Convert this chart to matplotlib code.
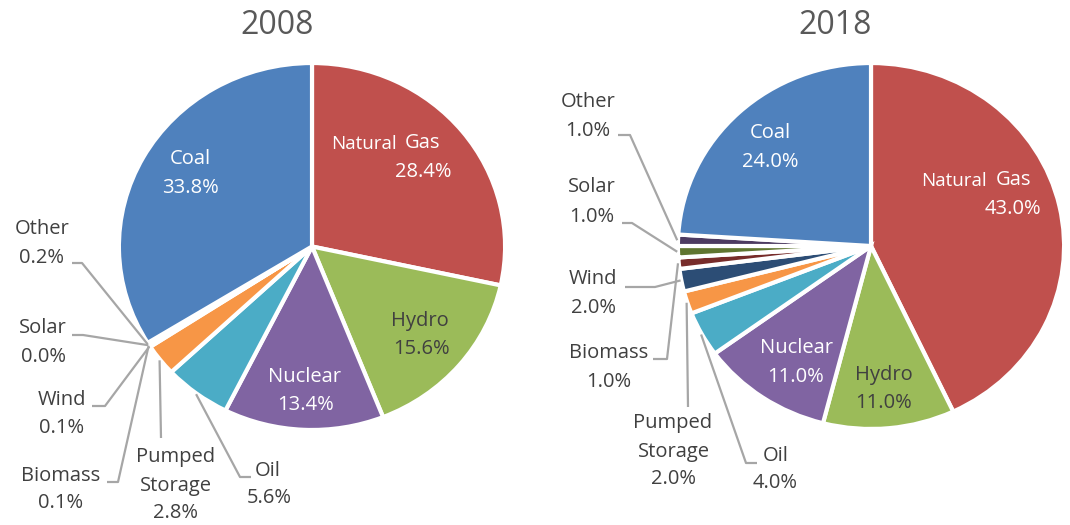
import numpy as np
import matplotlib
matplotlib.use("Agg")
import matplotlib.pyplot as plt

# ---------------- data ----------------
categories = ["Natural Gas", "Hydro", "Nuclear", "Oil", "Pumped Storage",
              "Wind", "Biomass", "Solar", "Other", "Coal"]
values_2008 = [28.4, 15.6, 13.4, 5.6, 2.8, 0.1, 0.1, 0.0, 0.2, 33.8]
values_2018 = [43.0, 11.0, 11.0, 4.0, 2.0, 2.0, 1.0, 1.0, 1.0, 24.0]
years = ["2008", "2018"]

colors = {
    "Coal": "#4F81BD", "Natural Gas": "#C0504D", "Hydro": "#9BBB59",
    "Nuclear": "#8064A2", "Oil": "#4BACC6", "Pumped Storage": "#F79646",
    "Wind": "#2C4D75", "Biomass": "#772C2A", "Solar": "#5F7530",
    "Other": "#4D3B62",
}

W, H = 1070, 525
FONT = ["Open Sans", "DejaVu Sans"]
plt.rcParams["font.family"] = FONT

fig = plt.figure(figsize=(W / 100, H / 100), dpi=100)

# pie boxes in pixel coords (left, top, right, bottom)
boxes = [(121, 65, 503, 428), (680, 65, 1062, 427)]
LW = 3.0
TXT = "#404040"
LEAD = "#A6A6A6"
FS = 14.5

# inside label layout (pixel centres) and colours
inside = [
    {"Coal": ((190, 159), (190, 188), "white"),
     "Hydro": ((420, 321), (421, 349), TXT),
     "Nuclear": ((305, 377), (306, 405), "white"),
     "Natural Gas": ((397, 405, 144), (423, 172), "white")},
    {"Coal": ((770, 133), (770, 162), "white"),
     "Hydro": ((884, 375), (884, 403), TXT),
     "Nuclear": ((796, 348), (796, 377), "white"),
     "Natural Gas": ((987, 996, 181), (1013, 209), "white")},
]

# outside label layout: name lines, value line, leader path start points
outside = [
    {"Other": ([(42, 229)], (41, 258), [(72, 263), (82, 263)]),
     "Solar": ([(43, 328)], (43, 357), [(72, 335), (83, 335)]),
     "Wind": ([(62, 400)], (62, 428), [(92, 406), (105, 406)]),
     "Biomass": ([(61, 476)], (61, 503), [(107, 482), (118, 482)]),
     "Pumped Storage": ([(176, 457), (176, 486)], (176, 513), [(161, 438)]),
     "Oil": ([(268, 471)], (269, 498), [(251, 477), (240, 477)])},
    {"Other": ([(588, 102)], (588, 131), [(618, 135), (630, 135)]),
     "Solar": ([(592, 187)], (592, 217), [(622, 223), (632, 223)]),
     "Wind": ([(593, 279)], (593, 308), [(625, 287), (655, 287)]),
     "Biomass": ([(609, 353)], (609, 382), [(653, 359), (667, 359)]),
     "Pumped Storage": ([(673, 423), (674, 452)], (674, 479), [(688, 407)]),
     "Oil": ([(776, 456)], (775, 483), [(757, 463), (746, 463)])},
]
titles_pos = [(277, 26), (835, 26)]

overlay = fig.add_axes([0, 0, 1, 1], zorder=10)
overlay.set_xlim(0, W)
overlay.set_ylim(H, 0)
overlay.axis("off")

for k, vals in enumerate([values_2008, values_2018]):
    l, t, r, b = boxes[k]
    ax = fig.add_axes([l / W, (H - b) / H, (r - l) / W, (b - t) / H])
    rx = (r - l) / 2
    ry = (b - t) / 2
    cx = l + rx
    cy = t + ry
    rad = 1 + (LW * 100 / 72 / 2) / rx
    ax.pie(vals, colors=[colors[c] for c in categories], startangle=90,
           counterclock=False, radius=rad,
           wedgeprops=dict(edgecolor="white", linewidth=LW))
    ax.set_aspect("auto")
    ax.set_xlim(-1, 1)
    ax.set_ylim(-1, 1)
    ax.axis("off")

    # mid angles of wedges
    total = sum(vals)
    cum = np.cumsum([0] + list(vals))
    mids = {}
    for i, c in enumerate(categories):
        frac = (cum[i] + cum[i + 1]) / 2 / total
        mids[c] = np.deg2rad(90 - 360 * frac)

    # title
    overlay.text(*titles_pos[k], years[k], ha="center", va="center",
                 fontsize=23, color="#595959")

    # inside labels
    for c, (p1, p2, col) in inside[k].items():
        v = vals[categories.index(c)]
        if c == "Natural Gas":
            overlay.text(p1[0], p1[2], "Natural", ha="right", va="center",
                         fontsize=FS - 1, color=col)
            overlay.text(p1[1], p1[2] - 1, "Gas", ha="left", va="center",
                         fontsize=FS, color=col)
        else:
            overlay.text(*p1, c, ha="center", va="center", fontsize=FS, color=col)
        overlay.text(*p2, f"{v:.1f}%", ha="center", va="center",
                     fontsize=FS, color=col)

    # outside labels with leaders
    for c, (name_pos, val_pos, path) in outside[k].items():
        v = vals[categories.index(c)]
        words = ["Pumped", "Storage"] if c == "Pumped Storage" else [c]
        for w, p in zip(words, name_pos):
            overlay.text(*p, w, ha="center", va="center", fontsize=FS, color=TXT)
        overlay.text(*val_pos, f"{v:.1f}%", ha="center", va="center",
                     fontsize=FS, color=TXT)
        ang = mids[c]
        ax_pt = (cx + 1.015 * rx * np.cos(ang), cy - 1.015 * ry * np.sin(ang))
        pts = list(path) + [ax_pt]
        xs, ys = zip(*pts)
        overlay.plot(xs, ys, color=LEAD, lw=1.6, solid_capstyle="butt")

fig.savefig("out.png", dpi=100, facecolor="white")
